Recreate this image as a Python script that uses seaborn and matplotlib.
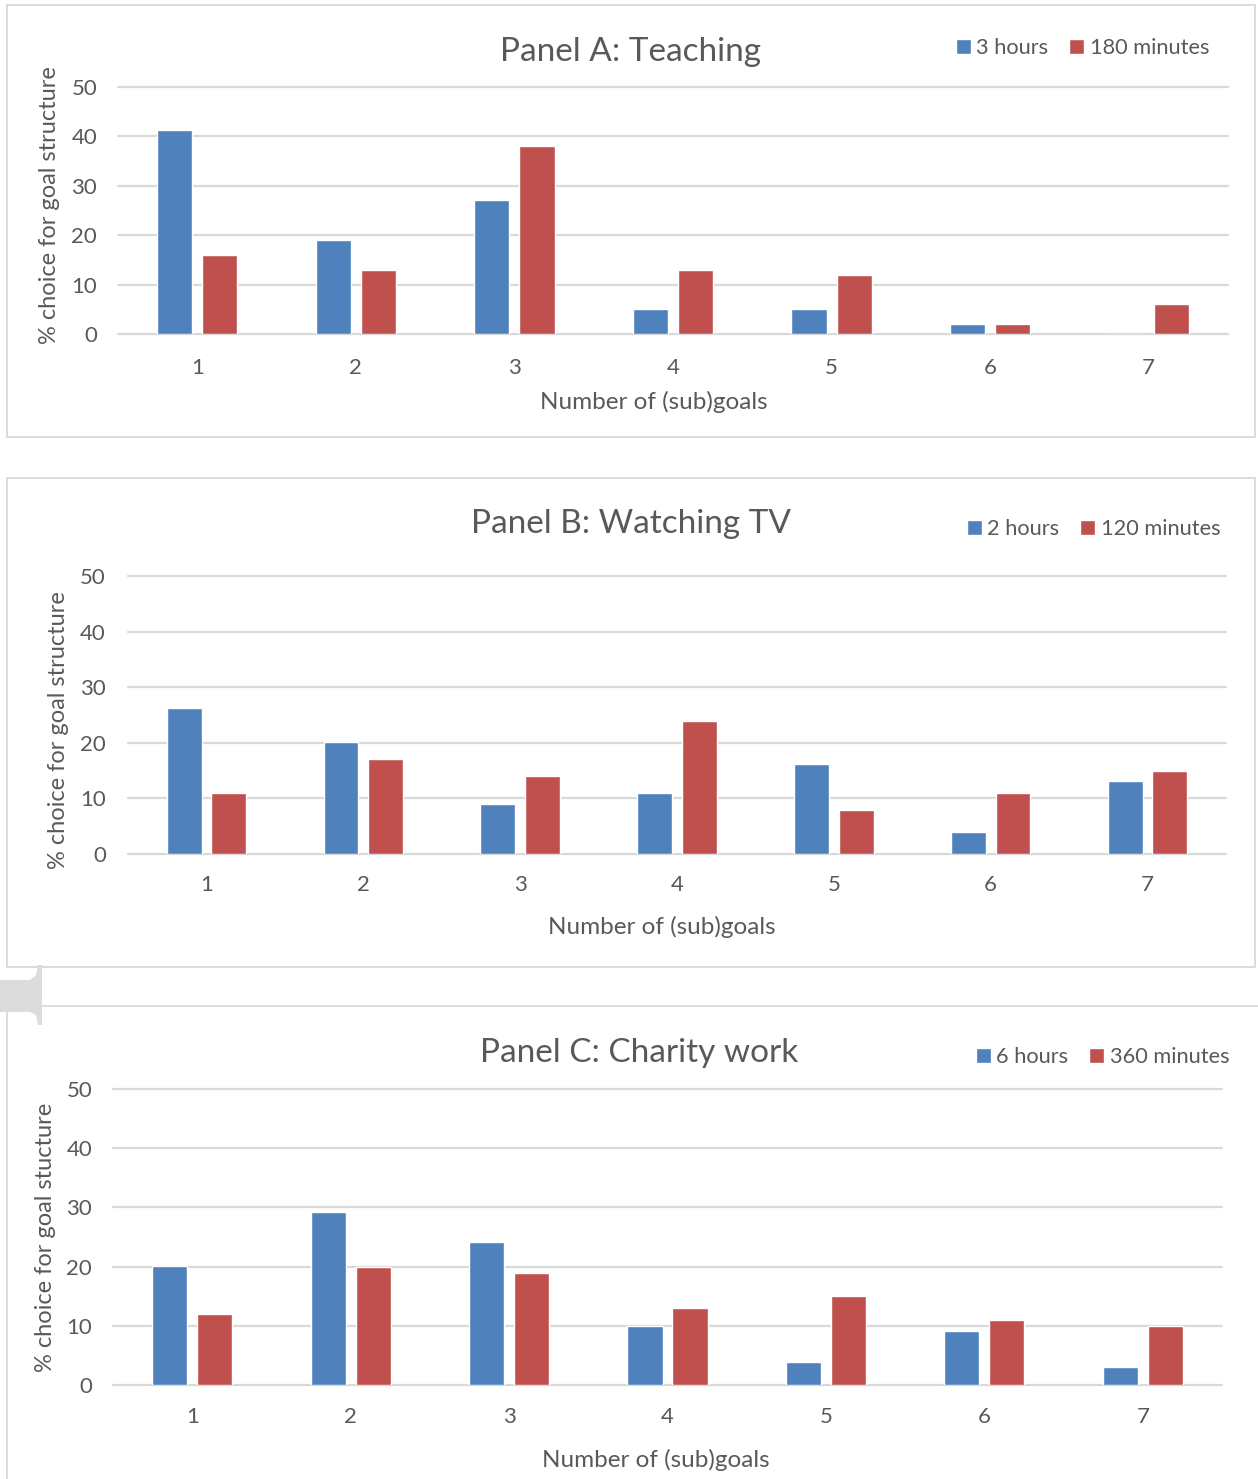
import numpy as np
import pandas as pd
import matplotlib
matplotlib.use("Agg")
import matplotlib.pyplot as plt
from matplotlib.patches import Rectangle, Polygon
import seaborn as sns

# ---- data -------------------------------------------------------------
goals = [1, 2, 3, 4, 5, 6, 7]

teaching_hours = [41.3, 19.1, 27.1, 5, 5, 2, 0]
teaching_minutes = [16, 13, 38, 13, 12, 2, 6]

tv_hours = [26.3, 20.1, 9, 11, 16.2, 4, 13.1]
tv_minutes = [11, 17, 14, 24, 8, 11, 15]

charity_hours = [20.1, 29.2, 24.2, 10, 3.9, 9.1, 3]
charity_minutes = [12, 20, 19, 13, 15, 11, 10]

panel_titles = ["Panel A: Teaching", "Panel B: Watching TV", "Panel C: Charity work"]
hour_labels = ["3 hours", "2 hours", "6 hours"]
minute_labels = ["180 minutes", "120 minutes", "360 minutes"]
y_labels = ["% choice for goal structure", "% choice for goal structure",
            "% choice for goal stucture"]
x_label = "Number of (sub)goals"
y_ticks = [0, 10, 20, 30, 40, 50]

# ---- style ------------------------------------------------------------
W, H = 1258, 1479
DPI = 100
sns.set_theme(style="white")
plt.rcParams["font.family"] = ["Lato", "DejaVu Sans"]
TXT = "#595959"
GRID = "#d9d9d9"
BLUE = "#4f81bd"
RED = "#c0504d"
LEG_FS = 15.7


def fx(x):
    return x / W


def fy(y):
    return 1 - y / H


fig = plt.figure(figsize=(W / DPI, H / DPI), dpi=DPI)
fig.patch.set_facecolor("white")

# panel frames (pixel boxes: left, top, right, bottom)
frames = [(7, 5, 1255, 437), (7, 478, 1255, 967), (7, 1006, 1262, 1485)]
for l, t, r, b in frames:
    fig.patches.append(Rectangle((fx(l), fy(b)), fx(r - l), (b - t) / H,
                                 transform=fig.transFigure, facecolor="white",
                                 edgecolor=GRID, lw=1.3, zorder=-2))

# page tab between panels B and C
tab = [(0, 980), (30, 980), (36, 975), (38, 965), (42, 965), (42, 1025),
       (38, 1025), (36, 1015), (30, 1012), (0, 1012)]
fig.patches.append(Polygon([(fx(x), fy(y)) for x, y in tab], closed=True,
                           transform=fig.transFigure, facecolor="#dcdcdc",
                           edgecolor="none", zorder=-1))

# per panel layout in pixels
layouts = [
    dict(ax=(118, 87, 1228, 334), title=(631, 52), legend=(956, 48),
         xlab=(654, 402), ylab=(50, 205), xpad=17, ypad=15),
    dict(ax=(128, 576, 1226, 854), title=(631, 524), legend=(967, 529),
         xlab=(662, 927), ylab=(59, 730), xpad=15, ypad=16),
    dict(ax=(113, 1089, 1222, 1385), title=(639, 1053), legend=(976, 1057),
         xlab=(656, 1460), ylab=(46, 1237), xpad=16, ypad=15),
]

series = [
    (teaching_hours, teaching_minutes),
    (tv_hours, tv_minutes),
    (charity_hours, charity_minutes),
]

for i, (lay, (hrs, mins)) in enumerate(zip(layouts, series)):
    l, t, r, b = lay["ax"]
    ax = fig.add_axes([fx(l), fy(b), (r - l) / W, (b - t) / H])
    ax.set_facecolor("none")

    df = pd.DataFrame({
        "goals": goals * 2,
        "value": list(hrs) + list(mins),
        "unit": [hour_labels[i]] * len(goals) + [minute_labels[i]] * len(goals),
    })
    sns.barplot(data=df, x="goals", y="value", hue="unit",
                palette=[BLUE, RED], width=0.568, gap=0.22,
                saturation=1, ax=ax, legend=True, zorder=3)

    ax.set_xlim(-0.5, 6.5)
    ax.set_ylim(0, 50)
    ax.set_yticks(y_ticks)
    ax.yaxis.grid(True, color=GRID, lw=1.6)
    for gl in ax.get_ygridlines():
        gl.set_clip_on(False)
    ax.set_axisbelow(True)
    for s in ax.spines.values():
        s.set_visible(False)
    ax.tick_params(axis="x", length=0, pad=lay["xpad"], labelsize=16, labelcolor=TXT)
    ax.tick_params(axis="y", length=0, pad=lay["ypad"], labelsize=16, labelcolor=TXT)

    ax.set_xlabel(x_label, fontsize=17.5, color=TXT)
    ax.set_ylabel(y_labels[i], fontsize=17, color=TXT)
    xl, yl = lay["xlab"]
    ax.xaxis.set_label_coords((xl - l) / (r - l), (b - yl) / (b - t))
    ax.xaxis.label.set_va("center")
    yx, yy = lay["ylab"]
    ax.yaxis.set_label_coords((yx - l) / (r - l), (b - yy) / (b - t))
    ax.yaxis.label.set_va("center")

    tx, ty = lay["title"]
    fig.text(fx(tx), fy(ty), panel_titles[i], fontsize=24, color=TXT,
             ha="center", va="center")

    lx, ly = lay["legend"]
    handles, labels = ax.get_legend_handles_labels()
    ax.legend(handles, labels, loc="center left",
              bbox_to_anchor=(fx(lx), fy(ly)), bbox_transform=fig.transFigure,
              ncol=2, frameon=False, fontsize=LEG_FS, labelcolor=TXT,
              handlelength=0.68, handleheight=0.68, handletextpad=0.26,
              columnspacing=0.95, borderpad=0, borderaxespad=0)

fig.savefig("out.png", dpi=DPI, facecolor="white")
